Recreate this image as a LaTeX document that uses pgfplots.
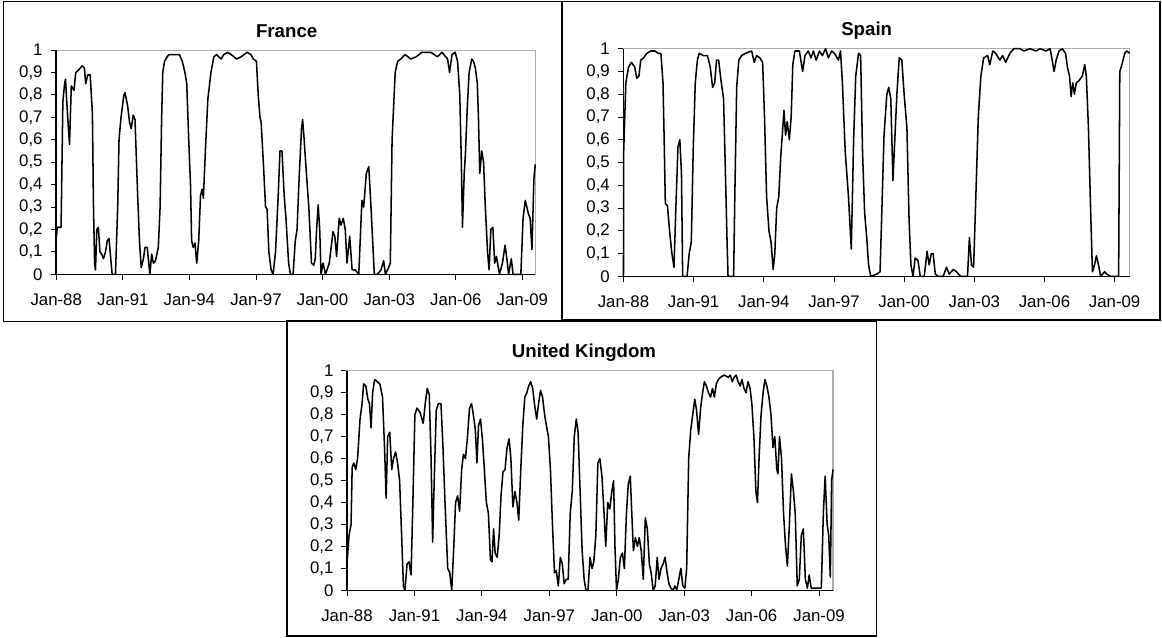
\documentclass[border=0pt]{standalone}
\usepackage{fontspec}
\setmainfont{Liberation Sans}
\usepackage{pgfplots}
\usepackage{pgfplotstable}
\pgfplotsset{compat=1.18}

\pgfplotstableread{
t v
0.00 0.16
0.05 0.21
0.22 0.21
0.30 0.77
0.38 0.85
0.42 0.87
0.47 0.78
0.55 0.65
0.60 0.58
0.68 0.84
0.80 0.82
0.88 0.90
1.00 0.91
1.17 0.93
1.27 0.92
1.33 0.85
1.42 0.89
1.53 0.89
1.63 0.72
1.68 0.30
1.73 0.05
1.77 0.02
1.83 0.20
1.90 0.21
1.97 0.10
2.05 0.09
2.13 0.07
2.22 0.10
2.30 0.15
2.38 0.16
2.43 0.10
2.52 0.00
2.67 0.00
2.77 0.30
2.83 0.60
2.92 0.70
3.05 0.80
3.10 0.81
3.22 0.75
3.30 0.68
3.38 0.65
3.47 0.71
3.55 0.69
3.67 0.35
3.75 0.15
3.83 0.03
3.93 0.07
4.00 0.12
4.10 0.12
4.22 0.00
4.30 0.09
4.38 0.05
4.47 0.06
4.60 0.12
4.68 0.30
4.75 0.70
4.80 0.90
4.88 0.95
5.00 0.97
5.08 0.98
5.30 0.98
5.55 0.98
5.68 0.95
5.80 0.90
5.88 0.85
5.97 0.60
6.05 0.40
6.10 0.15
6.17 0.12
6.25 0.14
6.33 0.05
6.42 0.15
6.50 0.35
6.57 0.38
6.63 0.34
6.72 0.55
6.83 0.78
6.97 0.90
7.10 0.97
7.22 0.98
7.43 0.96
7.55 0.98
7.72 0.99
7.88 0.98
8.13 0.96
8.33 0.97
8.60 0.99
8.77 0.98
8.88 0.96
9.02 0.95
9.10 0.80
9.18 0.70
9.23 0.68
9.33 0.50
9.43 0.30
9.50 0.29
9.58 0.10
9.68 0.02
9.77 0.00
9.88 0.10
10.00 0.35
10.08 0.55
10.17 0.55
10.27 0.35
10.35 0.25
10.47 0.05
10.55 0.00
10.67 0.00
10.77 0.15
10.85 0.20
10.93 0.40
11.05 0.65
11.10 0.69
11.17 0.60
11.27 0.45
11.38 0.30
11.50 0.05
11.60 0.04
11.67 0.07
11.73 0.20
11.80 0.31
11.87 0.20
11.93 0.00
12.02 0.05
12.13 0.00
12.30 0.05
12.47 0.19
12.55 0.17
12.63 0.08
12.75 0.25
12.83 0.22
12.93 0.25
13.02 0.20
13.10 0.05
13.22 0.17
13.33 0.02
13.47 0.02
13.63 0.00
13.77 0.33
13.85 0.30
13.97 0.45
14.08 0.48
14.18 0.30
14.33 0.00
14.47 0.00
14.63 0.02
14.75 0.06
14.83 0.00
14.97 0.03
15.05 0.05
15.13 0.60
15.27 0.90
15.38 0.95
15.52 0.96
15.72 0.98
15.97 0.96
16.22 0.97
16.47 0.99
16.88 0.99
17.17 0.97
17.38 0.99
17.63 0.96
17.72 0.90
17.83 0.98
17.97 0.99
18.08 0.95
18.18 0.80
18.25 0.50
18.30 0.21
18.38 0.45
18.43 0.53
18.52 0.75
18.60 0.90
18.72 0.96
18.80 0.95
18.88 0.92
18.97 0.85
19.02 0.70
19.08 0.45
19.17 0.55
19.25 0.50
19.33 0.30
19.43 0.10
19.50 0.02
19.58 0.20
19.67 0.21
19.75 0.05
19.83 0.08
19.97 0.00
20.10 0.05
20.22 0.13
20.30 0.07
20.38 0.00
20.50 0.07
20.58 0.00
20.93 0.00
21.03 0.25
21.13 0.33
21.27 0.27
21.35 0.25
21.43 0.11
21.52 0.43
21.58 0.49
}\france

\pgfplotstableread{
t v
0.00 0.00
0.01 0.55
0.10 0.85
0.22 0.92
0.34 0.94
0.48 0.92
0.57 0.87
0.66 0.88
0.74 0.95
0.86 0.96
1.00 0.98
1.17 0.99
1.34 0.99
1.48 0.98
1.60 0.98
1.69 0.85
1.74 0.60
1.79 0.32
1.88 0.31
1.97 0.20
2.07 0.10
2.16 0.04
2.24 0.30
2.33 0.57
2.41 0.60
2.48 0.45
2.53 0.00
2.72 0.00
2.81 0.10
2.90 0.15
2.98 0.55
3.07 0.85
3.16 0.95
3.24 0.98
3.41 0.97
3.59 0.97
3.71 0.92
3.81 0.83
3.90 0.85
3.98 0.95
4.07 0.95
4.17 0.86
4.28 0.78
4.36 0.45
4.43 0.15
4.47 0.00
4.71 0.00
4.76 0.35
4.84 0.83
4.93 0.95
5.05 0.97
5.22 0.98
5.48 0.99
5.59 0.94
5.69 0.97
5.83 0.96
5.95 0.94
6.03 0.70
6.12 0.35
6.22 0.20
6.31 0.15
6.40 0.03
6.47 0.10
6.55 0.30
6.64 0.35
6.72 0.52
6.81 0.65
6.86 0.73
6.93 0.62
7.00 0.68
7.09 0.60
7.17 0.70
7.24 0.93
7.33 0.99
7.52 0.99
7.66 0.90
7.76 0.97
7.90 0.99
8.02 0.96
8.12 0.99
8.24 0.95
8.38 0.99
8.50 0.97
8.64 1.00
8.76 0.96
8.90 0.99
9.02 0.98
9.19 0.95
9.28 0.99
9.36 0.85
9.48 0.55
9.62 0.35
9.74 0.12
9.84 0.60
9.93 0.88
10.05 0.98
10.14 0.97
10.22 0.55
10.31 0.28
10.40 0.17
10.48 0.05
10.57 0.00
10.83 0.01
10.97 0.02
11.05 0.30
11.14 0.62
11.26 0.80
11.34 0.83
11.43 0.78
11.52 0.42
11.60 0.60
11.69 0.80
11.79 0.96
11.90 0.95
12.00 0.80
12.12 0.65
12.21 0.25
12.29 0.05
12.38 0.00
12.47 0.08
12.59 0.07
12.69 0.00
12.86 0.00
12.98 0.11
13.07 0.05
13.16 0.10
13.24 0.10
13.33 0.01
13.45 0.00
13.67 0.00
13.81 0.04
13.93 0.01
14.10 0.03
14.24 0.02
14.41 0.00
14.71 0.00
14.79 0.17
14.88 0.05
14.97 0.04
15.05 0.30
15.17 0.70
15.28 0.88
15.40 0.96
15.57 0.97
15.66 0.93
15.79 0.99
15.91 0.98
16.09 0.95
16.21 0.97
16.34 0.94
16.52 0.98
16.69 1.00
16.95 1.00
17.12 0.99
17.38 1.00
17.64 0.99
17.81 1.00
18.07 0.99
18.24 1.00
18.33 0.95
18.41 0.90
18.50 0.95
18.62 0.99
18.76 1.00
18.90 0.98
18.98 0.92
19.07 0.88
19.14 0.79
19.21 0.85
19.28 0.80
19.36 0.85
19.48 0.86
19.62 0.88
19.72 0.93
19.79 0.88
19.88 0.65
19.97 0.30
20.05 0.02
20.14 0.05
20.22 0.09
20.31 0.05
20.40 0.00
20.57 0.02
20.66 0.01
20.83 0.00
21.17 0.00
21.22 0.90
21.31 0.93
21.43 0.98
21.52 0.99
21.64 0.98
}\spain

\pgfplotstableread{
t v
0.00 0.12
0.09 0.25
0.18 0.30
0.23 0.56
0.30 0.58
0.39 0.55
0.47 0.60
0.58 0.78
0.67 0.85
0.74 0.94
0.84 0.93
0.93 0.87
1.00 0.85
1.07 0.74
1.14 0.90
1.23 0.96
1.35 0.95
1.46 0.94
1.58 0.88
1.67 0.65
1.74 0.42
1.81 0.70
1.90 0.72
1.99 0.55
2.07 0.60
2.16 0.63
2.25 0.58
2.34 0.50
2.43 0.25
2.51 0.02
2.58 0.00
2.67 0.12
2.76 0.13
2.85 0.07
2.93 0.40
3.02 0.80
3.11 0.83
3.25 0.81
3.39 0.76
3.48 0.85
3.57 0.92
3.66 0.89
3.74 0.60
3.81 0.22
3.88 0.50
3.97 0.82
4.06 0.85
4.18 0.85
4.27 0.65
4.36 0.40
4.48 0.10
4.57 0.08
4.66 0.00
4.75 0.20
4.83 0.40
4.92 0.43
5.01 0.36
5.10 0.55
5.18 0.62
5.27 0.60
5.36 0.70
5.45 0.83
5.54 0.85
5.62 0.80
5.71 0.73
5.78 0.58
5.85 0.75
5.94 0.78
6.03 0.68
6.11 0.55
6.20 0.40
6.29 0.35
6.38 0.14
6.45 0.13
6.52 0.28
6.59 0.17
6.68 0.15
6.77 0.25
6.85 0.43
6.94 0.54
7.03 0.55
7.12 0.65
7.21 0.69
7.29 0.60
7.38 0.38
7.47 0.45
7.56 0.40
7.64 0.32
7.73 0.55
7.82 0.75
7.91 0.88
8.00 0.90
8.08 0.93
8.17 0.95
8.26 0.92
8.35 0.84
8.44 0.78
8.52 0.85
8.61 0.91
8.70 0.88
8.79 0.80
8.87 0.75
8.96 0.70
9.05 0.55
9.14 0.30
9.23 0.08
9.31 0.09
9.40 0.02
9.49 0.15
9.58 0.12
9.66 0.03
9.75 0.05
9.84 0.05
9.93 0.35
10.02 0.45
10.11 0.70
10.20 0.78
10.28 0.72
10.37 0.45
10.46 0.18
10.55 0.05
10.63 0.00
10.72 0.00
10.81 0.15
10.90 0.10
10.98 0.13
11.07 0.25
11.16 0.58
11.25 0.60
11.34 0.52
11.42 0.38
11.51 0.20
11.60 0.40
11.69 0.37
11.78 0.45
11.86 0.50
11.92 0.20
11.99 0.00
12.07 0.05
12.16 0.15
12.25 0.17
12.34 0.10
12.43 0.35
12.51 0.48
12.60 0.52
12.67 0.35
12.74 0.18
12.83 0.24
12.92 0.20
13.00 0.24
13.09 0.18
13.18 0.05
13.27 0.33
13.36 0.28
13.45 0.12
13.53 0.08
13.62 0.00
13.71 0.02
13.80 0.15
13.88 0.05
13.97 0.10
14.06 0.12
14.15 0.15
14.24 0.08
14.32 0.03
14.41 0.01
14.50 0.00
14.59 0.02
14.67 0.00
14.76 0.05
14.85 0.10
14.94 0.02
15.03 0.01
15.11 0.10
15.20 0.60
15.29 0.73
15.38 0.80
15.47 0.87
15.55 0.82
15.64 0.71
15.73 0.83
15.82 0.90
15.90 0.95
15.99 0.93
16.08 0.90
16.17 0.88
16.26 0.92
16.34 0.88
16.43 0.94
16.52 0.96
16.61 0.97
16.78 0.98
16.96 0.97
17.05 0.98
17.14 0.95
17.22 0.97
17.31 0.98
17.40 0.95
17.49 0.93
17.57 0.96
17.66 0.92
17.75 0.90
17.84 0.95
17.93 0.92
18.01 0.85
18.10 0.70
18.19 0.45
18.26 0.40
18.33 0.60
18.42 0.80
18.51 0.90
18.59 0.96
18.68 0.93
18.77 0.88
18.86 0.80
18.95 0.65
19.03 0.70
19.12 0.55
19.17 0.53
19.24 0.70
19.33 0.60
19.42 0.35
19.51 0.20
19.59 0.11
19.68 0.30
19.77 0.53
19.86 0.45
19.94 0.35
20.03 0.02
20.12 0.05
20.21 0.25
20.30 0.28
20.39 0.05
20.48 0.01
20.56 0.07
20.65 0.01
20.83 0.01
21.10 0.01
21.19 0.35
21.27 0.52
21.36 0.30
21.43 0.25
21.50 0.06
21.56 0.50
21.62 0.55
}\uk

\pgfplotsset{
  panel/.style={
    scale only axis,
    ymin=0, ymax=1, xmin=0,
    ytick={0,0.1,0.2,0.3,0.4,0.5,0.6,0.7,0.8,0.9,1},
    yticklabel style={xshift=-2.5pt, /pgf/number format/.cd, use comma, fixed, precision=1, assume math mode=true},
    xtick={0,3,6,9,12,15,18,21},
    xticklabels={Jan-88,Jan-91,Jan-94,Jan-97,Jan-00,Jan-03,Jan-06,Jan-09},
    xticklabel style={yshift=-7pt},
    tick label style={font=\fontsize{12.6}{14}\selectfont},
    tick align=outside, tick pos=left,
    major tick length=4.2pt,
    tick style={black, line width=0.7pt},
    axis line style={draw=gray!65, line width=0.8pt},
    clip=false,
  },
  dataline/.style={black, line width=1.15pt, line join=round, no marks},
}

\begin{document}
\begin{tikzpicture}
\useasboundingbox (0,0) rectangle (871.5pt,477.75pt);
% frames
\draw[black, line width=1.1pt] (2.8pt,476.6pt) rectangle (421.5pt,236.5pt);
\draw[black, line width=1.1pt] (421.5pt,476.6pt) rectangle (870pt,237.75pt);
\draw[black, line width=1.1pt] (215.25pt,237pt) rectangle (657.4pt,0.9pt);

% France
\begin{axis}[panel, at={(42.15pt,272.0pt)}, anchor=south west,
  width=359.3pt, height=168.2pt, xmax=21.58]
\addplot[dataline] table[x=t,y=v] {\france};
\draw[black, line width=1.2pt] (rel axis cs:0,1) -- (rel axis cs:0,0) -- (rel axis cs:1,0);
\end{axis}
\node[font=\fontsize{14}{16}\selectfont\bfseries] at (215.0pt,454.0pt) {France};

% Spain
\begin{axis}[panel, at={(467.6pt,270.5pt)}, anchor=south west,
  width=379.6pt, height=170.7pt, xmax=21.64]
\addplot[dataline] table[x=t,y=v] {\spain};
\draw[black, line width=1.2pt] (rel axis cs:0,1) -- (rel axis cs:0,0) -- (rel axis cs:1,0);
\end{axis}
\node[font=\fontsize{14}{16}\selectfont\bfseries] at (650.0pt,454.7pt) {Spain};

% United Kingdom
\begin{axis}[panel, at={(260.25pt,35.0pt)}, anchor=south west,
  width=364.5pt, height=164.7pt, xmax=21.62]
\addplot[dataline] table[x=t,y=v] {\uk};
\draw[black, line width=1.2pt] (rel axis cs:0,1) -- (rel axis cs:0,0) -- (rel axis cs:1,0);
\end{axis}
\node[font=\fontsize{14}{16}\selectfont\bfseries] at (438.0pt,213.2pt) {United Kingdom};
\end{tikzpicture}
\end{document}
